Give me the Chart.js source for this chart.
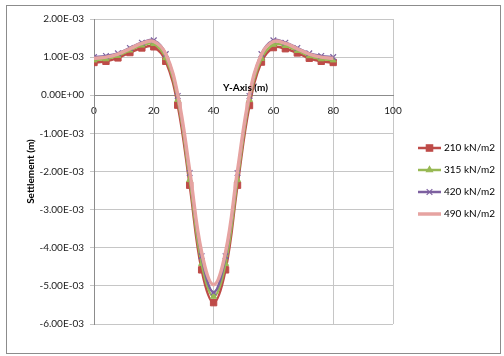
<!DOCTYPE html>
<html>
<head>
<meta charset="utf-8">
<script src="https://cdn.jsdelivr.net/npm/chart.js@4/dist/chart.umd.min.js"></script>
<style>
  html, body { margin: 0; padding: 0; background: #fff; }
  #wrap { width: 504px; height: 356px; }
</style>
</head>
<body>
<div id="wrap"><canvas id="chart" width="504" height="356"></canvas></div>
<script>
// Data (settlement in m vs position along Y-axis in m)
const yAxisPos = [0, 4, 8, 12, 16, 20, 24, 28, 32, 36, 40, 44, 48, 52, 56, 60, 64, 68, 72, 76, 80];
const seriesNames = ['210 kN/m2', '315 kN/m2', '420 kN/m2', '490 kN/m2'];
const s210 = [0.86e-3, 0.89e-3, 0.98e-3, 1.12e-3, 1.24e-3, 1.27e-3, 0.89e-3, -0.26e-3, -2.36e-3, -4.58e-3, -5.44e-3,
              -4.58e-3, -2.36e-3, -0.27e-3, 0.87e-3, 1.25e-3, 1.22e-3, 1.11e-3, 0.97e-3, 0.89e-3, 0.86e-3];
const s315 = [0.92e-3, 0.95e-3, 1.04e-3, 1.18e-3, 1.31e-3, 1.35e-3, 0.98e-3, -0.12e-3, -2.22e-3, -4.42e-3, -5.28e-3,
              -4.42e-3, -2.22e-3, -0.12e-3, 0.96e-3, 1.33e-3, 1.30e-3, 1.17e-3, 1.03e-3, 0.95e-3, 0.92e-3];
const s420 = [1.00e-3, 1.03e-3, 1.10e-3, 1.24e-3, 1.38e-3, 1.44e-3, 1.08e-3, -0.02e-3, -2.04e-3, -4.22e-3, -5.17e-3,
              -4.22e-3, -2.04e-3, -0.02e-3, 1.08e-3, 1.44e-3, 1.38e-3, 1.24e-3, 1.10e-3, 1.03e-3, 1.00e-3];
const s490 = [0.97e-3, 1.00e-3, 1.08e-3, 1.22e-3, 1.36e-3, 1.41e-3, 1.08e-3, 0.02e-3, -1.98e-3, -4.12e-3, -4.97e-3,
              -4.12e-3, -1.98e-3, 0.02e-3, 1.07e-3, 1.41e-3, 1.36e-3, 1.22e-3, 1.08e-3, 1.00e-3, 0.97e-3];
const xTicks = [0, 20, 40, 60, 80, 100];

const FONT = 'Lato, "Liberation Sans", sans-serif';

function pts(vals) {
  return yAxisPos.map((x, i) => ({ x: x, y: vals[i] }));
}

// Excel-like scientific tick labels: 2.00E-03
function sci(v) {
  if (Math.abs(v) < 1e-12) return '0.00E+00';
  const [m, e] = v.toExponential(2).split('e');
  const n = parseInt(e, 10);
  const ex = (n < 0 ? '-' : '+') + String(Math.abs(n)).padStart(2, '0');
  return m + 'E' + ex;
}

const styles = [
  { color: '#be4b48', width: 2.5, point: 'rect', radius: 4.5, order: 4 },
  { color: '#98b954', width: 2.5, point: 'triangle', radius: 3.5, order: 3 },
  { color: '#7d60a0', width: 2.5, point: 'crossRot', radius: 4, order: 2 },
  { color: '#e6a3a1', width: 3.5, point: false, radius: 0, order: 1 }
];
const allSeries = [s210, s315, s420, s490];

const datasets = allSeries.map((vals, i) => ({
  label: seriesNames[i],
  data: pts(vals),
  borderColor: styles[i].color,
  backgroundColor: styles[i].color,
  borderWidth: styles[i].width,
  pointStyle: styles[i].point,
  pointRadius: styles[i].radius,
  pointBorderWidth: styles[i].point === 'crossRot' ? 1.2 : 1,
  pointBorderColor: styles[i].color,
  pointBackgroundColor: styles[i].color,
  tension: 0.4,
  order: styles[i].order
}));

// frame + x-axis title + legend
const extras = {
  id: 'extras',
  beforeDraw(chart) {
    const ctx = chart.ctx;
    ctx.save();
    ctx.fillStyle = '#fff';
    ctx.fillRect(0, 0, chart.width, chart.height);
    ctx.strokeStyle = '#8c8c8c';
    ctx.lineWidth = 1;
    ctx.strokeRect(6.5, 5.5, 494, 348);
    ctx.restore();
  },
  afterDraw(chart) {
    const ctx = chart.ctx;
    const xs = chart.scales.x, ys = chart.scales.y;
    ctx.save();
    ctx.fillStyle = '#000';
    ctx.font = 'bold 10px ' + FONT;
    ctx.textAlign = 'center';
    ctx.textBaseline = 'middle';
    ctx.fillText('Y-Axis (m)', (xs.left + xs.right) / 2 + 2, ys.getPixelForValue(0) - 7);

    // legend
    const lx0 = 418, lx1 = 441;
    seriesNames.forEach((name, i) => {
      const y = 148 + i * 22;
      const st = styles[i];
      ctx.strokeStyle = st.color;
      ctx.lineWidth = st.width;
      ctx.beginPath();
      ctx.moveTo(lx0, y);
      ctx.lineTo(lx1, y);
      ctx.stroke();
      if (st.point) {
        ctx.fillStyle = st.color;
        ctx.lineWidth = 1.2;
        Chart.helpers.drawPoint(ctx, { pointStyle: st.point, radius: st.radius, rotation: 0, borderWidth: 1.2 }, (lx0 + lx1) / 2, y);
      }
      ctx.fillStyle = '#000';
      ctx.font = '10px ' + FONT;
      ctx.textAlign = 'left';
      ctx.fillText(name, 444, y);
    });
    ctx.restore();
  }
};

new Chart(document.getElementById('chart'), {
  type: 'line',
  data: { datasets: datasets },
  options: {
    responsive: false,
    animation: false,
    devicePixelRatio: 1,
    layout: { padding: { left: 20, right: 111, top: 19, bottom: 32 } },
    plugins: { legend: { display: false }, tooltip: { enabled: false } },
    scales: {
      x: {
        type: 'linear',
        position: { y: 0 },
        min: 0,
        max: 100,
        afterBuildTicks(scale) { scale.ticks = xTicks.map(v => ({ value: v })); },
        ticks: { color: '#222', font: { family: FONT, size: 10 }, padding: 6, maxRotation: 0 },
        grid: { color: '#c6c6c6', tickLength: 4 },
        border: { color: '#8c8c8c' }
      },
      y: {
        min: -0.006,
        max: 0.002,
        afterFit(scale) { scale.width = 74; },
        ticks: {
          stepSize: 0.001,
          color: '#222',
          font: { family: FONT, size: 10 },
          padding: 6,
          callback: v => sci(v)
        },
        grid: { color: '#c6c6c6', tickLength: 4 },
        border: { color: '#8c8c8c' },
        title: {
          display: true,
          text: 'Settlement (m)',
          color: '#000',
          font: { family: FONT, size: 10, weight: 'bold' },
          padding: { top: 5, bottom: 0 }
        }
      }
    }
  },
  plugins: [extras]
});
</script>
</body>
</html>
